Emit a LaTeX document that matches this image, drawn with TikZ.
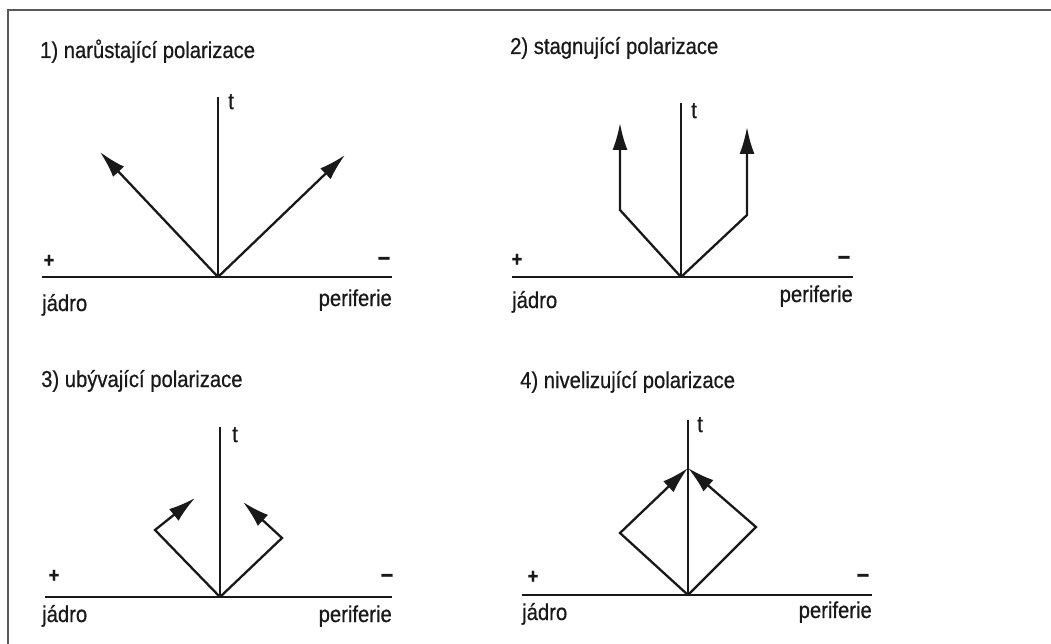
\documentclass[tikz,border=0pt]{standalone}
\usepackage{fontspec}
\setmainfont{Liberation Sans}[FakeStretch=0.88, FakeBold=0.6]
\usetikzlibrary{arrows.meta, positioning}
\definecolor{ink}{RGB}{25,25,25}
\definecolor{frame}{RGB}{90,90,90}

\begin{document}
\begin{tikzpicture}[
    x=1pt, y=-1pt,
    ax/.style={line width=2.3pt, ink},
    arr/.style={-{Latex[length=27pt,width=15pt]}, line width=2.3pt, ink},
    ttl/.style={anchor=base west, inner sep=0pt, ink,
                font=\fontsize{23}{27}\selectfont},
    lb/.style={inner sep=0pt, ink, font=\fontsize{23}{27}\selectfont},
    sg/.style={inner sep=0pt, ink, font=\fontsize{21}{24}\selectfont\bfseries},
    mn/.style={inner sep=0pt, ink, font=\fontsize{25}{28}\selectfont\bfseries}
  ]
    \useasboundingbox (0,0) rectangle (1051,644);
    \fill[white] (0,0) rectangle (1051,644);

    %% Frame ──────────────────────────────────
    \coordinate (F1) at (1051,10);
    \coordinate (F2) at (8,10);
    \coordinate (F3) at (8,644);
    \draw[frame, line width=2.4pt] (F1) -- (F2) -- (F3);

    %% 1) growing ─────────────────────────────
    \node[ttl] (T1) at (40,58) {1) narůstající polarizace};
    \coordinate (L1) at (42,277);
    \coordinate (R1) at (392,277);
    \coordinate (O1) at (218,277);
    \coordinate (V1) at (218,97);
    \draw[ax] (L1) -- (R1);
    \draw[ax] (O1) -- (V1);
    \node[lb, anchor=north west] (t1) at (228,94) {t};
    \node[sg] (p1) at (49,261) {+};
    \node[mn] (m1) at (384,261) {–};
    \node[lb, anchor=base west] (j1) at (42,311) {jádro};
    \node[lb, anchor=base east] (e1) at (392,306) {periferie};
    \coordinate (A1) at (100,152);
    \coordinate (B1) at (345,155);
    \draw[arr] (O1) -- (A1);
    \draw[arr] (O1) -- (B1);

    %% 2) stagnating ──────────────────────────
    \node[ttl] (T2) at (510,54) {2) stagnující polarizace};
    \coordinate (L2) at (512,277);
    \coordinate (R2) at (853,277);
    \coordinate (O2) at (681,277);
    \coordinate (V2) at (681,103);
    \draw[ax] (L2) -- (R2);
    \draw[ax] (O2) -- (V2);
    \node[lb, anchor=north west] (t2) at (691,103) {t};
    \node[sg] (p2) at (517,260) {+};
    \node[mn] (m2) at (844,260) {–};
    \node[lb, anchor=base west] (j2) at (512,308) {jádro};
    \node[lb, anchor=base east] (e2) at (853,302) {periferie};
    \coordinate (A2b) at (620,210);
    \coordinate (A2) at (620,123);
    \coordinate (B2b) at (747,215);
    \coordinate (B2) at (747,127);
    \draw[arr] (O2) -- (A2b) -- (A2);
    \draw[arr] (O2) -- (B2b) -- (B2);

    %% 3) declining ───────────────────────────
    \node[ttl] (T3) at (41,387) {3) ubývající polarizace};
    \coordinate (L3) at (45,597);
    \coordinate (R3) at (392,597);
    \coordinate (O3) at (220,597);
    \coordinate (V3) at (220,427);
    \draw[ax] (L3) -- (R3);
    \draw[ax] (O3) -- (V3);
    \node[lb, anchor=north west] (t3) at (232,427) {t};
    \node[sg] (p3) at (54,576) {+};
    \node[mn] (m3) at (387,578) {–};
    \node[lb, anchor=base west] (j3) at (42,622) {jádro};
    \node[lb, anchor=base east] (e3) at (392,622) {periferie};
    \coordinate (A3b) at (155,530);
    \coordinate (A3) at (195,498);
    \coordinate (B3b) at (282,538);
    \coordinate (B3) at (243,502);
    \draw[arr] (O3) -- (A3b) -- (A3);
    \draw[arr] (O3) -- (B3b) -- (B3);

    %% 4) levelling ───────────────────────────
    \node[ttl] (T4) at (520,388) {4) nivelizující polarizace};
    \coordinate (L4) at (522,595);
    \coordinate (R4) at (872,595);
    \coordinate (O4) at (688,595);
    \coordinate (V4) at (688,420);
    \draw[ax] (L4) -- (R4);
    \draw[ax] (O4) -- (V4);
    \node[lb, anchor=north west] (t4) at (697,417) {t};
    \node[sg] (p4) at (533,577) {+};
    \node[mn] (m4) at (863,578) {–};
    \node[lb, anchor=base west] (j4) at (522,620) {jádro};
    \node[lb, anchor=base east] (e4) at (872,618) {periferie};
    \coordinate (A4b) at (620,533);
    \coordinate (B4b) at (756,527);
    \coordinate (C4) at (688,468);
    \draw[arr] (O4) -- (A4b) -- (C4);
    \draw[arr] (O4) -- (B4b) -- (C4);

  \end{tikzpicture}
\end{document}
